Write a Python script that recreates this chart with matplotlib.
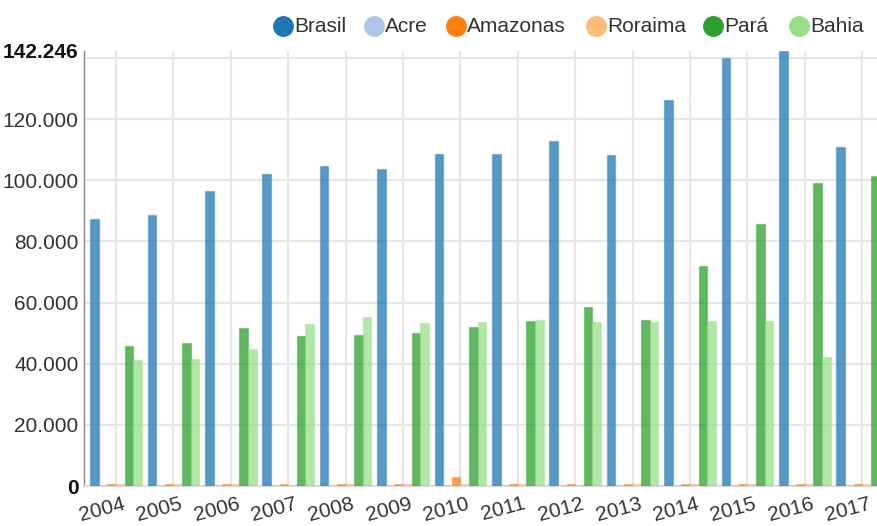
import numpy as np
import matplotlib
matplotlib.use("Agg")
import matplotlib.pyplot as plt
import matplotlib.transforms as mtransforms
from matplotlib.lines import Line2D

plt.rcParams['font.family'] = ['Liberation Sans', 'DejaVu Sans']

years = ['2004', '2005', '2006', '2007', '2008', '2009', '2010',
         '2011', '2012', '2013', '2014', '2015', '2016', '2017']
series_names = ['Brasil', 'Acre', 'Amazonas', 'Roraima', 'Pará', 'Bahia']
colors = ['#1f77b4', '#aec7e8', '#ff7f0e', '#ffbb78', '#2ca02c', '#98df8a']

brasil = [87200, 88500, 96600, 102000, 104700, 103700, 108600,
          108700, 112900, 108300, 126200, 139800, 142246, 111000]
acre = [420, 400, 380, 410, 390, 400, 430, 410, 400, 390, 420, 400, 410, 400]
amazonas = [760, 740, 720, 730, 700, 720, 2900, 710, 690, 720, 700, 710, 730, 720]
roraima = [520, 500, 510, 490, 500, 510, 520, 500, 490, 500, 510, 500, 520, 500]
para = [45800, 46800, 51600, 48900, 49400, 50100, 52000,
        53800, 58500, 54300, 72100, 85700, 99000, 101500]
bahia = [41300, 41500, 44800, 52900, 55100, 53300, 53500,
         54400, 53700, 53500, 53800, 53800, 42100, 55000]

y_max = 142246


def fmt(v):
    return '{:,}'.format(int(v)).replace(',', '.')


fig = plt.figure(figsize=(8.78, 5.26), dpi=100)
ax = fig.add_axes([84 / 878, 40 / 526, 1 - 84 / 878, 435 / 526])

data = [brasil, acre, amazonas, roraima, para, bahia]
x = np.arange(len(years))
w = 0.15
for i, (vals, c) in enumerate(zip(data, colors)):
    ax.bar(x - 0.45 + w * (i + 0.5), vals, width=w,
           color=matplotlib.colors.to_rgba(c, 0.75),
           edgecolor=matplotlib.colors.to_rgba(c, 0.35), linewidth=1, zorder=3)

ax.set_xlim(-0.557, 13.275)
ax.set_ylim(0, y_max)

# y axis
ax.set_yticks(np.arange(0, 140001, 20000))
ax.set_yticklabels([fmt(v) if v < 140000 else '' for v in np.arange(0, 140001, 20000)])
ax.set_yticks([y_max], [fmt(y_max)], minor=True)
ax.tick_params(axis='y', which='both', length=0, pad=4, labelsize=15, labelcolor='#333333')
for lbl in ax.get_yticklabels(minor=True):
    lbl.set_fontweight('bold')
    lbl.set_color('#111111')
ax.get_yticklabels()[0].set_fontweight('bold')
ax.get_yticklabels()[0].set_color('#111111')

# x axis
ax.set_xticks(x)
ax.set_xticklabels(years, rotation=15, ha='center', va='top')
ax.tick_params(axis='x', length=0, pad=6, labelsize=15, labelcolor='#333333')
offset = mtransforms.ScaledTranslation(-14 / 100, 0, fig.dpi_scale_trans)
for lbl in ax.get_xticklabels():
    lbl.set_transform(lbl.get_transform() + offset)

ax.grid(True, which='major', color='#e6e6e6', linewidth=1.5, zorder=0)
ax.set_axisbelow(True)
for s in ['top', 'right']:
    ax.spines[s].set_visible(False)
ax.spines['left'].set_color('#888888')
ax.spines['left'].set_linewidth(1)
ax.spines['bottom'].set_color('#dddddd')
ax.spines['bottom'].set_linewidth(1.5)

# legend
legend_x = [283, 374, 456, 596, 713, 799]
for name, c, lx in zip(series_names, colors, legend_x):
    fig.add_artist(Line2D([lx / 878], [1 - 26 / 526], marker='o', markersize=14,
                          color=c, linestyle='none', transform=fig.transFigure))
    fig.text((lx + 11) / 878, 1 - 26 / 526, name, fontsize=15, color='#333333',
             va='center', ha='left')

fig.savefig('out.png', dpi=100)
